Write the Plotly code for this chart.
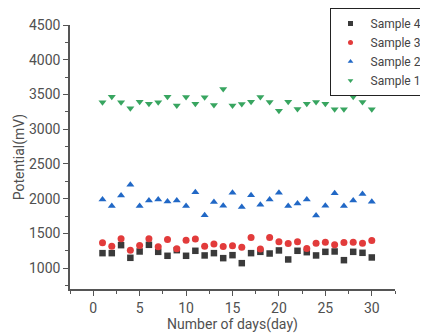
import plotly.graph_objects as go

days = list(range(1, 31))
sample1 = [3387, 3467, 3387, 3300, 3395, 3366, 3387, 3467, 3343, 3463,
           3366, 3459, 3348, 3578, 3343, 3362, 3395, 3463, 3391, 3266,
           3395, 3290, 3366, 3391, 3366, 3288, 3286, 3467, 3391, 3286]
sample2 = [1989, 1893, 2047, 2200, 1893, 1975, 1989, 1961, 1975, 1893,
           2092, 1763, 1951, 1897, 2085, 1879, 2051, 1912, 1989, 2085,
           1893, 1932, 1989, 1759, 1897, 2078, 1893, 1975, 2066, 1955]
sample3 = [1364, 1317, 1422, 1259, 1327, 1422, 1307, 1413, 1278, 1403,
           1418, 1317, 1346, 1312, 1321, 1302, 1442, 1274, 1442, 1379,
           1356, 1379, 1283, 1360, 1374, 1338, 1370, 1374, 1360, 1399]
sample4 = [1216, 1216, 1331, 1149, 1240, 1336, 1235, 1178, 1259, 1178,
           1250, 1183, 1216, 1144, 1187, 1072, 1216, 1235, 1211, 1255,
           1125, 1250, 1230, 1183, 1235, 1240, 1115, 1235, 1221, 1154]

series = [
    ("Sample 4", sample4, "square", "#3a3a3a", 6.5),
    ("Sample 3", sample3, "circle", "#e23b3b", 7),
    ("Sample 2", sample2, "triangle-up", "#2168c6", 7),
    ("Sample 1", sample1, "triangle-down", "#38a560", 7),
]

fig = go.Figure()
for name, vals, sym, col, sz in series:
    fig.add_trace(go.Scatter(
        x=days, y=vals, mode="markers", name=name, showlegend=False,
        marker=dict(symbol=sym, color=col, size=sz, line=dict(width=0)),
    ))
# legend entries with small symbols, as in the reference
for name, vals, sym, col, sz in series:
    fig.add_trace(go.Scatter(
        x=[None], y=[None], mode="markers", name=name, showlegend=True,
        marker=dict(symbol=sym, color=col, size=5, line=dict(width=0)),
    ))

axis_common = dict(
    showgrid=False, zeroline=False, showline=True, linecolor="#555555",
    linewidth=1.5, ticks="outside", ticklen=5, tickwidth=1.2, tickcolor="#555555",
    tickfont=dict(size=14, color="#505050"),
)

fig.update_layout(
    width=420, height=327,
    margin=dict(l=62, r=33, t=17, b=46, autoexpand=False),
    paper_bgcolor="white", plot_bgcolor="white",
    font=dict(family="Roboto, Noto Sans, sans-serif", color="#505050"),
    xaxis=dict(range=[-2.5, 32.5], tickmode="linear", tick0=0, dtick=5,
               minor=dict(ticks="outside", ticklen=3, tickwidth=1, tickcolor="#555555", dtick=2.5, tick0=0),
               title=dict(text="Number of days(day)", font=dict(size=14, color="#505050"), standoff=3),
               **axis_common),
    yaxis=dict(range=[700, 4500], tickmode="array",
               tickvals=[1000, 1500, 2000, 2500, 3000, 3500, 4000, 4500],
               minor=dict(ticks="outside", ticklen=3, tickwidth=1, tickcolor="#555555",
                          tickmode="array",
                          tickvals=[750, 1250, 1750, 2250, 2750, 3250, 3750, 4250]),
               title=dict(text="Potential(mV)", font=dict(size=14, color="#505050"), standoff=1),
               **axis_common),
    legend=dict(x=1.1, y=1.064, xanchor="right", yanchor="top",
                bordercolor="#222222", borderwidth=1, bgcolor="white",
                font=dict(size=12, color="#444444"),
                itemwidth=30, tracegroupgap=0),
    showlegend=True,
)

fig.write_html("out.html")
